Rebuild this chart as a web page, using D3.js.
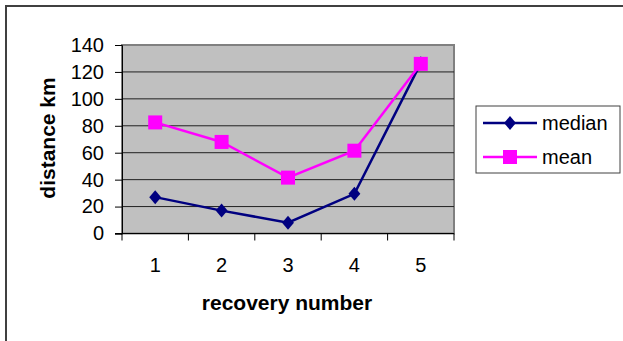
<!DOCTYPE html>
<html>
<head>
<meta charset="utf-8">
<script src="https://cdn.jsdelivr.net/npm/d3@7"></script>
<style>
  body { margin: 0; background: #fff; }
  text { font-family: Arial, "Liberation Sans", sans-serif; }
</style>
</head>
<body>
<div id="chart"></div>
<script>
const categories = ["1", "2", "3", "4", "5"];
const median = [27, 17, 8, 29.5, 126.5];
const mean = [82.5, 68, 41.5, 61.5, 126];
const yTicks = [0, 20, 40, 60, 80, 100, 120, 140];

const width = 623, height = 341;
const plot = { left: 122, top: 45, right: 454, bottom: 233.5 };

const svg = d3.select("#chart").append("svg")
  .attr("width", width)
  .attr("height", height);

// outer frame
svg.append("rect")
  .attr("x", 6).attr("y", 6)
  .attr("width", width + 10).attr("height", height + 10)
  .style("fill", "#fff")
  .style("stroke", "#404040")
  .style("stroke-width", 2);

const x = d3.scaleBand().domain(categories).range([plot.left, plot.right]);
const y = d3.scaleLinear().domain([0, 140]).range([plot.bottom, plot.top]);

svg.append("rect")
  .attr("x", plot.left).attr("y", plot.top)
  .attr("width", plot.right - plot.left).attr("height", plot.bottom - plot.top)
  .style("fill", "#c0c0c0")
  .style("stroke", "#808080")
  .style("stroke-width", 2);

svg.selectAll("line.grid")
  .data(yTicks.filter(d => d > 0 && d < 140))
  .enter().append("line")
  .attr("class", "grid")
  .attr("x1", plot.left).attr("x2", plot.right)
  .attr("y1", y).attr("y2", y)
  .style("stroke", "#202020")
  .style("stroke-width", 1);

// y axis
const yAxis = d3.axisLeft(y).tickValues(yTicks).tickSize(7).tickPadding(11);
const gy = svg.append("g")
  .attr("transform", "translate(" + plot.left + ",0)")
  .call(yAxis);
gy.select(".domain").style("stroke", "#000");
gy.selectAll("text").style("font-size", "20px").style("fill", "#000");

// x axis with ticks at band boundaries
const gx = svg.append("g")
  .attr("transform", "translate(0," + plot.bottom + ")");
gx.append("line")
  .attr("x1", plot.left - 7).attr("x2", plot.right)
  .style("stroke", "#000");
const bounds = categories.map(c => x(c)).concat([plot.right]);
gx.selectAll("line.tick")
  .data(bounds)
  .enter().append("line")
  .attr("class", "tick")
  .attr("x1", d => d).attr("x2", d => d)
  .attr("y1", 0).attr("y2", 7)
  .style("stroke", "#000");
gx.selectAll("text")
  .data(categories)
  .enter().append("text")
  .attr("x", d => x(d) + x.bandwidth() / 2)
  .attr("y", 38)
  .attr("text-anchor", "middle")
  .style("font-size", "20px")
  .text(d => d);

// axis titles
svg.append("text")
  .attr("transform", "translate(55,138) rotate(-90)")
  .attr("text-anchor", "middle")
  .style("font-size", "21px")
  .style("font-weight", "bold")
  .text("distance km");

svg.append("text")
  .attr("x", 287)
  .attr("y", 310)
  .attr("text-anchor", "middle")
  .style("font-size", "21px")
  .style("font-weight", "bold")
  .text("recovery number");

// series
const cx = d => x(d) + x.bandwidth() / 2;
const line = d3.line()
  .x((d, i) => cx(categories[i]))
  .y(d => y(d));

const diamond = (g, s) => g.append("path")
  .attr("d", "M0," + (-s) + "L" + (s * 0.85) + ",0L0," + s + "L" + (-s * 0.85) + ",0Z");

svg.append("path")
  .datum(median)
  .attr("d", line)
  .style("fill", "none")
  .style("stroke", "#000080")
  .style("stroke-width", 2.5);

svg.append("path")
  .datum(mean)
  .attr("d", line)
  .style("fill", "none")
  .style("stroke", "#ff00ff")
  .style("stroke-width", 2.5);

median.forEach((v, i) => {
  const g = svg.append("g").attr("transform", "translate(" + cx(categories[i]) + "," + y(v) + ")");
  diamond(g, 7).style("fill", "#000080");
});

svg.selectAll("rect.mean")
  .data(mean)
  .enter().append("rect")
  .attr("class", "mean")
  .attr("x", (d, i) => cx(categories[i]) - 7)
  .attr("y", d => y(d) - 7)
  .attr("width", 14).attr("height", 14)
  .style("fill", "#ff00ff");

// legend
const legend = svg.append("g");
legend.append("rect")
  .attr("x", 476).attr("y", 106)
  .attr("width", 144).attr("height", 67)
  .style("fill", "#fff")
  .style("stroke", "#404040")
  .style("stroke-width", 1);

const items = [
  { name: "median", color: "#000080", shape: "diamond", y: 123 },
  { name: "mean", color: "#ff00ff", shape: "square", y: 157 }
];
items.forEach(it => {
  legend.append("line")
    .attr("x1", 483).attr("x2", 537)
    .attr("y1", it.y).attr("y2", it.y)
    .style("stroke", it.color)
    .style("stroke-width", 2.5);
  const g = legend.append("g").attr("transform", "translate(510," + it.y + ")");
  if (it.shape === "diamond") {
    diamond(g, 7).style("fill", it.color);
  } else {
    g.append("rect").attr("x", -7).attr("y", -7).attr("width", 14).attr("height", 14)
      .style("fill", it.color);
  }
  legend.append("text")
    .attr("x", 542).attr("y", it.y + 6.5)
    .style("font-size", "20px")
    .text(it.name);
});
</script>
</body>
</html>
